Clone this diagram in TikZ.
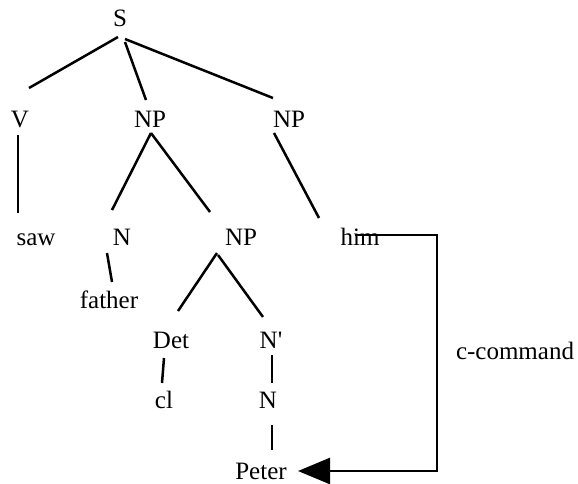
\documentclass[tikz,border=0pt]{standalone}
\usepackage{fontspec}
\setmainfont{Liberation Serif}
\usetikzlibrary{arrows.meta}
\begin{document}
\begin{tikzpicture}[x=1pt,y=-1pt,
  lab/.style={anchor=base,inner sep=0pt,font=\fontsize{25}{30}\selectfont},
  edge/.style={line width=2.5pt}]
\useasboundingbox (0,0) rectangle (578,483);
\node[lab] (S) at (120,26) {S};
\node[lab] (V) at (20,127) {V};
\node[lab] (NPa) at (150,127) {NP};
\node[lab] (NPb) at (289,127) {NP};
\node[lab] (saw) at (36,245) {saw};
\node[lab] (Na) at (122,245) {N};
\node[lab] (NPc) at (241,245) {NP};
\node[lab] (him) at (360,245) {him};
\node[lab] (father) at (109,308) {father};
\node[lab] (Det) at (171,348) {Det};
\node[lab] (Nbar) at (271,348) {N\textquotesingle};
\node[lab] (cl) at (164,408) {cl};
\node[lab] (Nb) at (268,408) {N};
\node[lab] (Peter) at (261,479) {Peter};
\node[lab] (cc) at (515,359) {c-command};

\draw[edge] ([shift={(-2,11)}]S.base) -- ([shift={(9,-39)}]V.base);
\draw[edge] ([shift={(5,16)}]S.base) -- ([shift={(-4,-27)}]NPa.base);
\draw[edge] ([shift={(5,13)}]S.base) -- ([shift={(-16,-29)}]NPb.base);
\draw[edge] ([shift={(-2,8)}]V.base) -- ([shift={(-18,-32)}]saw.base);
\draw[edge] ([shift={(1,6)}]NPa.base) -- ([shift={(-10,-35)}]Na.base);
\draw[edge] ([shift={(1,6)}]NPa.base) -- ([shift={(-31,-33)}]NPc.base);
\draw[edge] ([shift={(-15,6)}]NPb.base) -- ([shift={(-41,-27)}]him.base);
\draw[edge] ([shift={(-15,8)}]Na.base) -- ([shift={(3,-26)}]father.base);
\draw[edge] ([shift={(-24,8)}]NPc.base) -- ([shift={(7,-37)}]Det.base);
\draw[edge] ([shift={(-23,10)}]NPc.base) -- ([shift={(-8,-31)}]Nbar.base);
\draw[edge] ([shift={(-7,10)}]Det.base) -- ([shift={(-2,-25)}]cl.base);
\draw[edge] ([shift={(1,7)}]Nbar.base) -- ([shift={(4,-25)}]Nb.base);
\draw[edge] ([shift={(4,17)}]Nb.base) -- ([shift={(11,-29)}]Peter.base);
\draw[edge,-{Triangle[length=32pt,width=26pt]}] ([shift={(-5,-10)}]him.base) -| ([shift={(176,-8)}]Peter.base) -- ([shift={(37,-8)}]Peter.base);
\end{tikzpicture}
\end{document}
